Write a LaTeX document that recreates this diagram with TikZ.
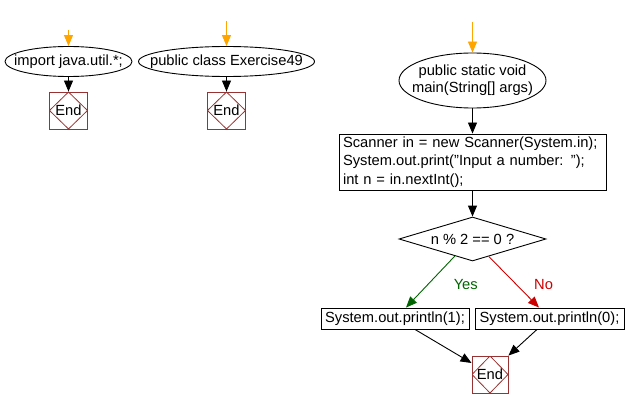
\documentclass[tikz,border=0pt]{standalone}
\usepackage{fontspec}
\setmainfont{Liberation Sans}
\usetikzlibrary{arrows.meta,shapes.geometric,positioning}
\definecolor{endred}{RGB}{153,51,51}
\definecolor{startorange}{RGB}{255,165,0}
\definecolor{yesgreen}{RGB}{0,100,0}
\definecolor{nored}{RGB}{204,0,0}
\newcommand{\tx}[1]{\makebox[0pt]{#1}}
\begin{document}
\begin{tikzpicture}[x=1pt, y=-1pt,
    font=\fontsize{14.7}{18.7}\selectfont,
    line width=0.9pt,
    arr/.style={-{Triangle[length=11pt,width=9pt]}},
    startarr/.style={arr,startorange},
    oval/.style={ellipse,draw,inner sep=0pt},
    box/.style={rectangle,draw,inner sep=0pt},
    cond/.style={diamond,draw,inner sep=0pt,minimum width=147pt,minimum height=44pt},
    endbox/.style={rectangle,draw=endred,inner sep=0pt,minimum width=38pt,minimum height=37pt,
      path picture={\draw[endred,line width=0.8pt] (path picture bounding box.north) -- (path picture bounding box.east)
        -- (path picture bounding box.south) -- (path picture bounding box.west) -- cycle;}}]
    \useasboundingbox (0,0) rectangle (626,409);
    % import
    \coordinate (s1) at (68.5,30);
    \node[oval,minimum width=127pt,minimum height=30pt] (imp) at (68.5,61.5) {\tx{import java.util.*;}};
    \node[endbox] (end1) at (68.5,110.5) {End};
    \draw[startarr] (s1) -- (imp);
    \draw[arr] (imp) -- (end1);
    % class
    \coordinate (s2) at (226.5,21);
    \node[oval,minimum width=176pt,minimum height=30pt] (cls) at (226.5,61.5) {\tx{public class Exercise49}};
    \node[endbox] (end2) at (226.5,110.5) {End};
    \draw[startarr] (s2) -- (cls);
    \draw[arr] (cls) -- (end2);
    % main
    \coordinate (s3) at (472.5,22);
    \node[oval,minimum width=147pt,minimum height=55pt] (main) at (472.5,80.5)
      {\tx{\begin{tabular}{@{}c@{}}public static void\\[-1.5pt]main(String[] args)\end{tabular}}};
    \node[box,text width=259pt,inner xsep=4pt,minimum height=56pt,align=left] (scan) at (472.5,162)
      {Scanner in = new Scanner(System.in);\\System.out.print("Input a number: ");\\int n = in.nextInt();};
    \node[cond] (test) at (472.5,239) {\tx{n \% 2 == 0 ?}};
    \node[box,minimum width=148pt,minimum height=21pt] (one) at (395,318.5) {System.out.println(1);};
    \node[box,minimum width=149pt,minimum height=21pt] (zero) at (549.5,318.5) {System.out.println(0);};
    \node[endbox,minimum width=36pt] (end3) at (490,374.5) {End};
    \draw[startarr] (s3) -- (main);
    \draw[arr] (main) -- (scan);
    \draw[arr] (scan) -- (test);
    \draw[arr,yesgreen] (test.224) -- node[pos=0.55,right=22pt] (yes) {Yes} ([xshift=11pt]one.north);
    \draw[arr,nored] (test.313) -- node[pos=0.55,right=14pt] (no) {No} ([xshift=-10.5pt]zero.north);
    \draw[arr] ([xshift=20pt]one.south) -- ([yshift=11.5pt]end3.west);
    \draw[arr] ([xshift=-12.5pt]zero.south) -- (end3.north east);
\end{tikzpicture}
\end{document}
